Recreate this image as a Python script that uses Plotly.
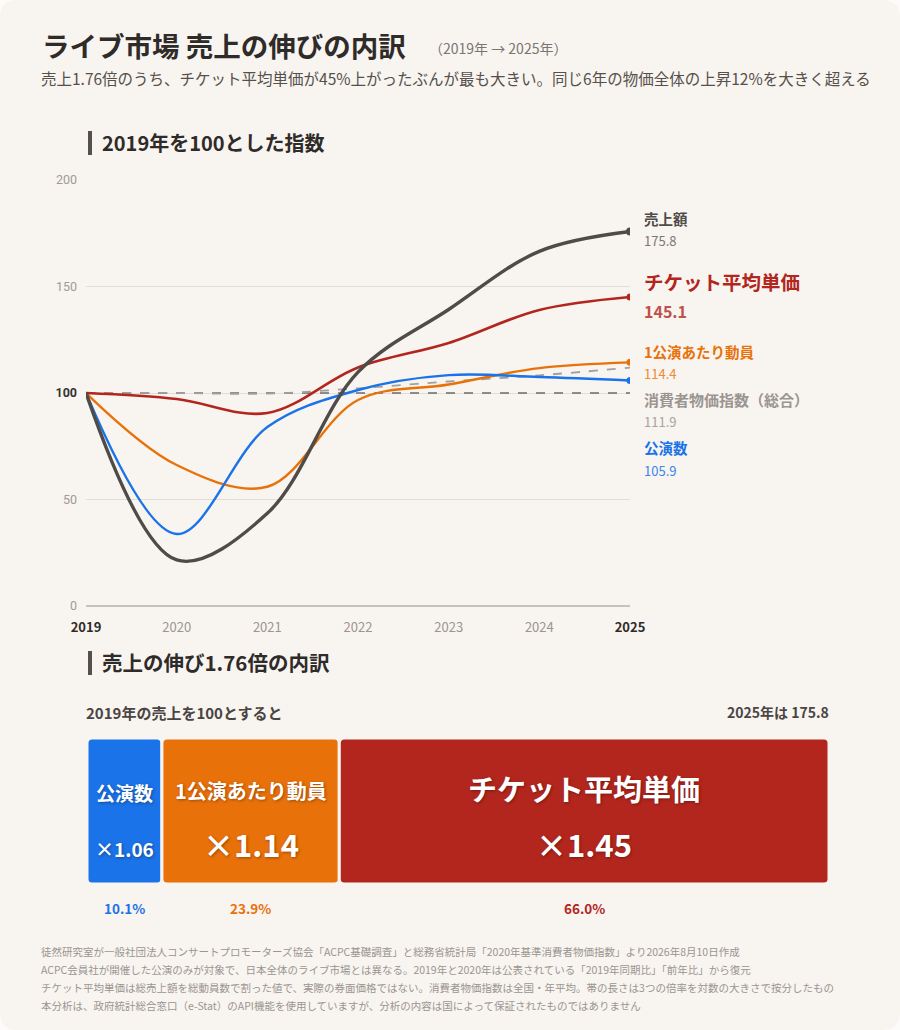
import numpy as np
import plotly.graph_objects as go

W, H = 900, 1030
FONT = "Noto Sans CJK JP"
BG = "#f8f4f0"
OUTER = "#fcfbf9"

years = [2019, 2020, 2021, 2022, 2023, 2024, 2025]
sales = [100, 21.6, 43.5, 109.8, 139.2, 166.5, 175.8]
ticket_price = [100, 97.2, 90.6, 112.0, 123.5, 139.0, 145.1]
per_show_attendance = [100, 66.2, 56.0, 96.7, 104.0, 111.7, 114.4]
show_count = [100, 33.8, 84.0, 101.4, 108.4, 107.5, 105.9]
cpi = [100, 100.0, 99.7, 102.2, 105.4, 108.3, 111.9]

y_ticks = [0, 50, 100, 150, 200]

factor_names = ["公演数", "1公演あたり動員", "チケット平均単価"]
factor_mult = ["×1.06", "×1.14", "×1.45"]
factor_share = [10.1, 23.9, 66.0]

BLUE, ORANGE, RED, GRAY = "#1a73e8", "#e8710a", "#b3261e", "#555555"
factor_colors = [BLUE, ORANGE, RED]


def px(x):
    return x / W


def py(y):
    return 1 - y / H


fig = go.Figure()

# reference 100 line
fig.add_trace(go.Scatter(x=[years[0], years[-1]], y=[100, 100], mode="lines",
                         line=dict(color="#6b6b6b", width=1.6, dash="dash"),
                         hoverinfo="skip", showlegend=False))
fig.add_trace(go.Scatter(x=years, y=cpi, mode="lines", line_shape="spline",
                         line=dict(color="#a0a0a0", width=1.8, dash="dash"),
                         showlegend=False))
for vals, col, w in [(per_show_attendance, ORANGE, 2.4), (show_count, BLUE, 2.4),
                     (ticket_price, RED, 2.6), (sales, "#4f4b48", 3.4)]:
    fig.add_trace(go.Scatter(x=years, y=vals, mode="lines", line_shape="spline",
                             line=dict(color=col, width=w, smoothing=1.0),
                             showlegend=False))
    fig.add_trace(go.Scatter(x=[years[-1]], y=[vals[-1]], mode="markers",
                             marker=dict(color=col, size=8 if w > 3 else 7),
                             showlegend=False))

# decomposition bars
bases = np.concatenate([[0], np.cumsum(factor_share)[:-1]])
for name, share, base, col in zip(factor_names, factor_share, bases, factor_colors):
    fig.add_trace(go.Bar(x=[share], y=[0], base=[base], orientation="h",
                         xaxis="x2", yaxis="y2", width=1,
                         marker=dict(color=col, line=dict(color=BG, width=3),
                                     cornerradius=5),
                         showlegend=False, hoverinfo="skip"))

ann = []


def text(x, y, s, size, color, bold=False, anchor="left", **kw):
    ann.append(dict(x=px(x), y=py(y), xref="paper", yref="paper", text=(f"<b>{s}</b>" if bold else s),
                    showarrow=False, xanchor=anchor, yanchor="middle",
                    font=dict(family=FONT, size=size, color=color, **kw)))


text(40, 45, "ライブ市場 売上の伸びの内訳", 27.5, "#2e2b29", True)
text(427, 48, "（2019年 → 2025年）", 14, "#7a7570")
text(39, 78, "売上1.76倍のうち、チケット平均単価が45%上がったぶんが最も大きい。同じ6年の物価全体の上昇12%を大きく超える",
     15.5, "#55504b")
text(100, 142, "2019年を100とした指数", 20, "#2e2b29", True)
text(100, 662, "売上の伸び1.76倍の内訳", 20.5, "#2e2b29", True)
text(84, 712, "2019年の売上を100とすると", 15, "#4a4542", True)
text(831, 712, "2025年は 175.8", 14, "#4a4542", True, anchor="right")

# right-side series labels
LX = 642
text(LX, 219, "売上額", 14.5, "#4f4b48", True)
text(LX, 241, f"{sales[-1]:.1f}", 13, "#7d7873")
text(LX, 282, "チケット平均単価", 19.5, RED, True)
text(LX, 311, f"{ticket_price[-1]:.1f}", 16, "#c0504a", True)
text(LX, 351, "1公演あたり動員", 14.5, ORANGE, True)
text(LX, 373, f"{per_show_attendance[-1]:.1f}", 13, "#ef8a2e")
text(LX, 399, "消費者物価指数（総合）", 15, "#9a9591", True)
text(LX, 421, f"{cpi[-1]:.1f}", 13, "#a8a39f")
text(LX, 447, "公演数", 14.5, BLUE, True)
text(LX, 470, f"{show_count[-1]:.1f}", 13, "#3d86ea")

# labels inside bars
shadow = "1px 1px 3px rgba(0,0,0,0.35)"
inner = [((19, 792), (19, 848)), ((20, 790), (31, 843)), ((29, 788), (31, 843))]
for name, mult, share, base, (n, m) in zip(factor_names, factor_mult, factor_share, bases, inner):
    cx = base + share / 2
    ann.append(dict(x=cx, y=py(n[1]), xref="x2", yref="paper", text=f"<b>{name}</b>", showarrow=False,
                    xanchor="center", yanchor="middle",
                    font=dict(family=FONT, size=n[0], color="white", shadow=shadow)))
    ann.append(dict(x=cx, y=py(m[1]), xref="x2", yref="paper", text=f"<b>{mult}</b>", showarrow=False,
                    xanchor="center", yanchor="middle",
                    font=dict(family=FONT, size=m[0], color="white", shadow=shadow)))
for share, base, col in zip(factor_share, bases, factor_colors):
    ann.append(dict(x=base + share / 2, y=py(908), xref="x2", yref="paper", text=f"<b>{share:.1f}%</b>",
                    showarrow=False, xanchor="center", yanchor="middle",
                    font=dict(family=FONT, size=13.5, color=col)))

foot = [
    "徒然研究室が一般社団法人コンサートプロモーターズ協会「ACPC基礎調査」と総務省統計局「2020年基準消費者物価指数」より2026年8月10日作成",
    "ACPC会員社が開催した公演のみが対象で、日本全体のライブ市場とは異なる。2019年と2020年は公表されている「2019年同期比」「前年比」から復元",
    "チケット平均単価は総売上額を総動員数で割った値で、実際の券面価格ではない。消費者物価指数は全国・年平均。帯の長さは3つの倍率を対数の大きさで按分したもの",
    "本分析は、政府統計総合窓口（e-Stat）のAPI機能を使用していますが、分析の内容は国によって保証されたものではありません",
]
for i, line in enumerate(foot):
    text(39, 951 + i * 18, line, 10.5, "#9b9590")

r = 18
card = (f"M {px(r)},1 L {px(W - r)},1 Q 1,1 1,{py(r)} L 1,{py(H - r)} Q 1,0 {px(W - r)},0 "
        f"L {px(r)},0 Q 0,0 0,{py(H - r)} L 0,{py(r)} Q 0,1 {px(r)},1 Z")
shapes = [
    dict(type="path", xref="paper", yref="paper", path=card, fillcolor=BG, line_width=0, layer="below"),
    dict(type="rect", xref="paper", yref="paper", x0=px(88), x1=px(92), y0=py(131), y1=py(155),
         fillcolor="#55504b", line_width=0),
    dict(type="rect", xref="paper", yref="paper", x0=px(88), x1=px(92), y0=py(651), y1=py(675),
         fillcolor="#55504b", line_width=0),
    # dotted leader lines to labels
    dict(type="line", xref="x", yref="y", x0=years[-1] + 0.03, y0=cpi[-1] - 1.5,
         x1=years[-1] + 0.12, y1=cpi[-1] - 16, line=dict(color="#a0a0a0", width=1, dash="dot")),
    dict(type="line", xref="x", yref="y", x0=years[-1] + 0.03, y0=show_count[-1] - 1.5,
         x1=years[-1] + 0.12, y1=show_count[-1] - 29, line=dict(color=BLUE, width=1, dash="dot")),
]

tick_text = []
for t in y_ticks:
    tick_text.append("<b><span style='color:#333'>100</span></b>" if t == 100 else str(t))
x_text = [f"<b><span style='color:#2e2b29'>{y}</span></b>" if y in (years[0], years[-1]) else str(y)
          for y in years]

fig.update_layout(
    width=W, height=H, margin=dict(l=0, r=0, t=0, b=0, pad=0, autoexpand=False),
    paper_bgcolor=OUTER, plot_bgcolor="rgba(0,0,0,0)",
    font=dict(family=FONT, color="#555"),
    showlegend=False, annotations=ann, shapes=shapes, barmode="overlay",
    xaxis=dict(domain=[px(86), px(630)], range=[2019, 2025], tickvals=years, ticktext=x_text,
               showgrid=False, zeroline=False, showline=False, ticks="", ticklen=0, automargin=False,
               ticklabelstandoff=12,
               tickfont=dict(size=13, color="#9b9590", family=FONT)),
    yaxis=dict(domain=[py(606), py(180)], range=[0, 200], tickvals=y_ticks, ticktext=tick_text,
               showgrid=True, gridcolor="#e3ddd7", gridwidth=1, zeroline=True, zerolinecolor="#c8c2bc",
               zerolinewidth=2, showline=False, ticks="", ticklabelstandoff=8, automargin=False,
               tickfont=dict(size=12.5, color="#a09a95", family="Roboto")),
    xaxis2=dict(domain=[px(87), px(829)], range=[0, 100], visible=False, anchor="y2", automargin=False),
    yaxis2=dict(domain=[py(884), py(738)], range=[-0.5, 0.5], visible=False, anchor="x2", automargin=False),
)

fig.write_html("out.html", config={"displayModeBar": False},
               post_script="document.body.style.margin='0';document.body.style.overflow='hidden';")
